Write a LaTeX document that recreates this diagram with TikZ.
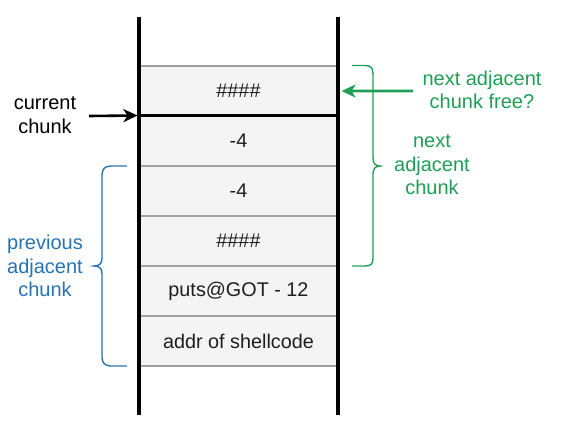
\documentclass[tikz,border=0pt]{standalone}
\usepackage{fontspec}
\setmainfont{Liberation Sans}
\usetikzlibrary{arrows.meta}
\definecolor{gfill}{HTML}{F4F4F4}
\definecolor{gline}{HTML}{A0A0A0}
\definecolor{grn}{HTML}{1F9E55}
\definecolor{blu}{HTML}{2673B3}
\definecolor{txt}{HTML}{1E1E1E}
\tikzset{
  row/.style={draw=gline, line width=1.1pt, fill=gfill, minimum width=199pt, minimum height=50pt, inner sep=0pt, anchor=north, text=txt, font=\fontsize{19.8}{23}\selectfont},
  wall/.style={line width=3.4pt, black},
  lbl/.style={align=center, font=\fontsize{20}{23.5}\selectfont, inner sep=0pt},
  brace/.style={line width=1.4pt},
  tip/.style={-{Stealth[length=14pt,width=13pt,inset=4pt]}},
}
\begin{document}
\begin{tikzpicture}[x=1pt,y=-1pt]
\useasboundingbox (0,0) rectangle (566,435);
\node[row] (r1) at (238.5,65.5) {\#\#\#\#};
\node[row] (r2) at (238.5,115.5) {-4};
\node[row] (r3) at (238.5,165.5) {-4};
\node[row] (r4) at (238.5,215.5) {\#\#\#\#};
\node[row] (r5) at (238.5,265.5) {puts@GOT - 12};
\node[row] (r6) at (238.5,315.5) {addr of shellcode};
\draw[wall] (139,17) coordinate (wl1) -- (139,415) coordinate (wl2);
\draw[wall] (338,17) coordinate (wr1) -- (338,415) coordinate (wr2);
\draw[line width=3pt] (r2.north west) -- (r2.north east);
% current chunk
\node[lbl] (cur) at (45,115) {current\\chunk};
\coordinate (cc) at (89,116);
\draw[line width=2.6pt, tip] (cc) -- ([xshift=-1pt]r2.north west);
% next adjacent chunk free
\node[lbl, text=grn] (nf) at (482,90) {next adjacent\\chunk free?};
\coordinate (nfs) at (413,91);
\draw[line width=2.6pt, grn, tip] (nfs) -- ([xshift=3pt]r1.east);
% next adjacent chunk
\node[lbl, text=grn] (na) at (432,165) {next\\adjacent\\chunk};
\draw[brace, grn] (352,65.5) -- (365,65.5) .. controls (371,65.5) and (373,68) .. (373,74) -- (373,158) .. controls (373,163) and (375,166) .. (380,166) .. controls (375,166) and (373,169) .. (373,174) -- (373,258) .. controls (373,264) and (371,266) .. (365,266) -- (352,266);
% previous adjacent chunk
\node[lbl, text=blu] (pa) at (45,266) {previous\\adjacent\\chunk};
\draw[brace, blu] (127,166) -- (111,166) .. controls (105,166) and (102,169) .. (102,175) -- (102,258) .. controls (102,263) and (100,266) .. (94,266) .. controls (100,266) and (102,269) .. (102,274) -- (102,357) .. controls (102,363) and (105,366) .. (111,366) -- (127,366);
\end{tikzpicture}
\end{document}
